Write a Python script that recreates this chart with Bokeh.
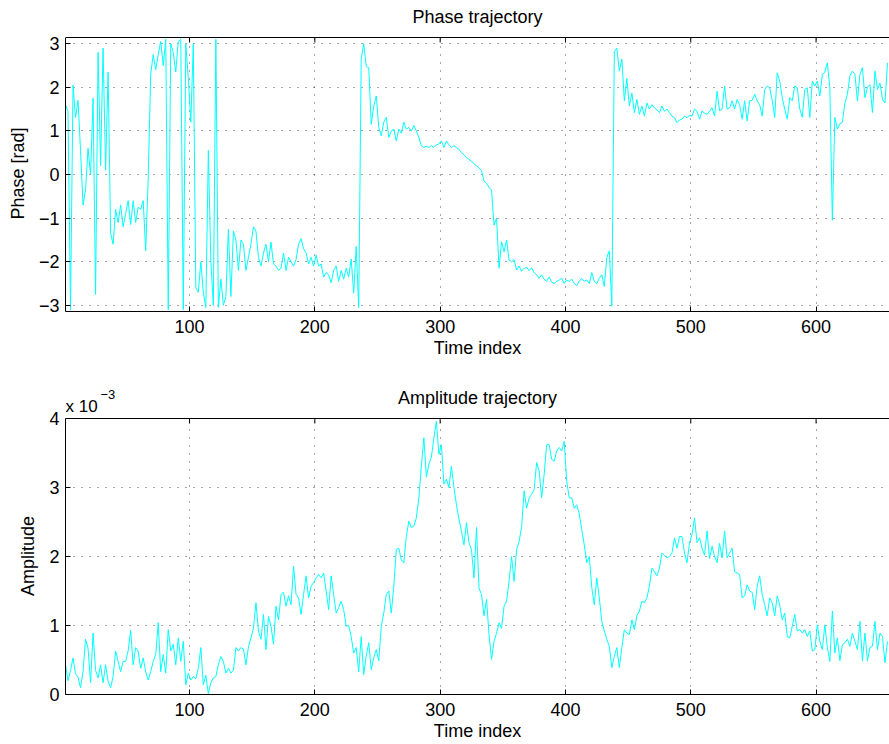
from bokeh.plotting import figure
from bokeh.layouts import column
from bokeh.models import Range1d, FixedTicker, Label, BoxAnnotation, Span
from bokeh.embed import file_html
from bokeh.resources import INLINE

# ---------------- data ----------------
time_index = list(range(1, 659, 2))

phase_rad = [
    1.6, 1.45, -3.1, 2.05, 1.3, 1.7, 0.55, -0.7, -0.35, 0.6,
    0.0, 1.75, -2.75, 2.8, 0.2, 2.9, 0.1, 2.35, -1.35, -1.6,
    -0.8, -1.1, -0.7, -1.2, -0.9, -0.6, -1.15, -0.6, -1.1, -0.75,
    -0.8, -0.6, -1.75, -0.1, 2.3, 2.75, 2.4, 2.75, 3.05, 2.5,
    3.1, -3.1, 3.0, 2.8, 2.35, 3.05, 3.1, -3.1, 3.0, 2.2,
    1.2, 3.0, -2.6, -2.7, -2.0, -2.7, -3.05, 0.55, -2.0, -3.0,
    3.1, -3.05, -2.4, -3.0, -2.8, -1.25, -2.8, -1.3, -1.5, -2.2,
    -1.5, -1.6, -2.2, -1.9, -1.6, -1.2, -1.3, -1.9, -2.1, -1.8,
    -1.6, -2.0, -1.55, -2.05, -2.1, -2.2, -2.15, -1.8, -2.2, -1.9,
    -2.0, -2.1, -1.95, -1.6, -1.47, -1.7, -1.8, -2.05, -1.9, -2.1,
    -1.85, -2.1, -2.05, -2.35, -2.25, -2.3, -2.48, -2.2, -2.1, -2.45,
    -2.2, -2.4, -2.15, -2.35, -1.94, -2.72, -1.65, -3.05, 2.65, 3.0,
    2.48, 2.45, 1.15, 1.57, 1.8, 1.08, 0.89, 1.2, 1.31, 0.85,
    1.0, 1.04, 0.77, 1.04, 0.95, 1.2, 1.04, 1.08, 1.0, 1.12,
    1.0, 0.85, 0.66, 0.62, 0.65, 0.62, 0.66, 0.62, 0.68, 0.70,
    0.77, 0.62, 0.77, 0.68, 0.62, 0.66, 0.62, 0.58, 0.5, 0.45,
    0.39, 0.35, 0.3, 0.25, 0.2, 0.15, 0.09, -0.15, -0.2, -0.3,
    -0.36, -1.16, -1.0, -2.15, -1.54, -1.77, -1.5, -1.96, -2.0, -1.95,
    -2.19, -2.1, -2.22, -2.15, -2.13, -2.2, -2.14, -2.25, -2.3, -2.38,
    -2.3, -2.4, -2.45, -2.35, -2.47, -2.5, -2.45, -2.42, -2.38, -2.5,
    -2.42, -2.45, -2.4, -2.5, -2.55, -2.45, -2.38, -2.45, -2.42, -2.5,
    -2.25, -2.45, -2.5, -2.38, -2.3, -2.57, -1.9, -1.75, -3.02, 2.82,
    2.9, 2.37, 2.65, 1.69, 2.2, 1.57, 1.87, 1.42, 1.72, 1.38,
    1.57, 1.34, 1.64, 1.5, 1.6, 1.53, 1.48, 1.42, 1.57, 1.45,
    1.5, 1.42, 1.34, 1.3, 1.19, 1.25, 1.27, 1.34, 1.3, 1.36,
    1.34, 1.5, 1.45, 1.27, 1.46, 1.4, 1.38, 1.45, 1.53, 1.34,
    1.91, 1.46, 1.5, 2.03, 1.5, 1.53, 1.69, 1.5, 1.72, 1.6,
    1.27, 1.69, 1.23, 1.69, 1.7, 1.84, 1.69, 1.6, 1.34, 1.95,
    2.03, 1.99, 1.7, 1.31, 2.33, 2.14, 1.76, 1.5, 1.27, 1.76,
    1.69, 2.03, 1.99, 1.5, 1.31, 1.95, 1.99, 1.31, 2.14, 2.03,
    2.14, 1.8, 2.29, 2.35, 2.56, 1.99, -1.05, 1.31, 1.04, 1.16,
    1.2, 1.64, 1.84, 2.26, 2.37, 2.3, 1.69, 2.3, 2.45, 1.76,
    2.0, 2.06, 1.42, 2.37, 1.95, 2.1, 1.72, 1.64, 2.56,
]

# amplitude in units of 1e-3 (axis shows "x 10^-3")
amplitude_e3 = [
    0.43, 0.2, 0.35, 0.53, 0.3, 0.25, 0.1, 0.33, 0.8, 0.67,
    0.17, 0.89, 0.35, 0.24, 0.43, 0.17, 0.43, 0.19, 0.1, 0.26,
    0.63, 0.48, 0.33, 0.48, 0.48, 0.63, 0.93, 0.43, 0.68, 0.63,
    0.38, 0.53, 0.33, 0.21, 0.33, 0.48, 0.58, 1.04, 0.33, 0.58,
    0.31, 0.94, 0.63, 0.73, 0.43, 0.82, 0.48, 0.77, 0.14, 0.31,
    0.21, 0.26, 0.23, 0.38, 0.68, 0.14, 0.28, 0.01, 0.17, 0.24,
    0.26, 0.43, 0.55, 0.48, 0.31, 0.38, 0.31, 0.35, 0.68, 0.63,
    0.68, 0.66, 0.43, 0.69, 0.82, 0.96, 1.33, 0.92, 0.8, 1.16,
    0.65, 1.13, 0.99, 0.73, 1.28, 1.08, 1.45, 1.48, 1.28, 1.43,
    1.3, 1.86, 1.45, 1.4, 1.16, 1.45, 1.72, 1.4, 1.57, 1.62,
    1.69, 1.74, 1.69, 1.76, 1.5, 1.23, 1.72, 1.45, 1.18, 1.26,
    1.35, 1.23, 0.99, 1.0, 0.84, 0.6, 0.68, 0.33, 0.84, 0.29,
    0.56, 0.75, 0.36, 0.53, 0.65, 0.49, 0.99, 1.18, 1.45, 1.5,
    1.18, 1.57, 2.1, 2.12, 1.95, 1.91, 2.29, 2.51, 2.42, 2.44,
    2.56, 2.85, 3.31, 3.72, 3.15, 3.34, 3.44, 3.72, 3.96, 3.48,
    3.62, 3.05, 3.12, 3.0, 3.31, 3.0, 2.75, 2.54, 2.37, 2.17,
    2.49, 2.2, 2.1, 1.69, 2.42, 1.54, 1.45, 1.14, 1.38, 0.87,
    0.51, 0.77, 0.89, 1.04, 0.96, 1.28, 1.35, 1.64, 2.0, 1.64,
    2.1, 2.22, 2.42, 2.95, 2.7, 2.85, 2.9, 2.97, 3.36, 3.24,
    2.85, 3.19, 3.62, 3.62, 3.41, 3.38, 3.53, 3.58, 3.53, 3.67,
    3.09, 2.85, 2.85, 2.7, 2.75, 2.62, 2.39, 2.17, 1.91, 2.0,
    1.55, 1.3, 1.69, 1.4, 1.06, 0.92, 0.8, 0.7, 0.39, 0.55,
    0.68, 0.39, 0.68, 0.94, 0.89, 0.87, 1.08, 0.94, 1.14, 1.21,
    1.35, 1.33, 1.4, 1.57, 1.83, 1.78, 1.72, 1.83, 2.05, 2.02,
    1.98, 2.0, 2.05, 2.27, 2.12, 2.29, 2.29, 2.05, 1.91, 2.2,
    2.32, 2.56, 2.2, 2.27, 2.12, 2.02, 2.37, 1.97, 2.15, 2.0,
    1.91, 2.19, 1.98, 2.37, 1.98, 2.05, 2.12, 1.78, 1.76, 1.74,
    1.4, 1.43, 1.59, 1.5, 1.48, 1.23, 1.57, 1.72, 1.45, 1.3,
    1.14, 1.4, 1.33, 1.14, 1.43, 1.3, 1.08, 1.18, 0.84, 0.82,
    0.99, 1.16, 0.92, 0.94, 0.89, 0.94, 0.84, 0.92, 0.63, 0.65,
    1.01, 0.77, 0.65, 1.01, 0.68, 0.48, 1.21, 0.6, 0.82, 0.49,
    0.72, 0.75, 0.8, 0.7, 0.89, 0.77, 0.65, 1.06, 0.49, 0.89,
    0.49, 0.68, 0.7, 1.06, 0.65, 0.89, 0.84, 0.46, 0.77,
]

x_ticks = [100, 200, 300, 400, 500, 600]
phase_ticks = [-3, -2, -1, 0, 1, 2, 3]
phase_tick_labels = {-3: "\u22123", -2: "\u22122", -1: "\u22121", 0: "0", 1: "1", 2: "2", 3: "3"}
amp_ticks = [0, 1, 2, 3, 4]

# ---------------- styling ----------------
FONT = "Liberation Sans"
FS = "18px"
LINE = "#00ffff"
X_START, X_END = 1, 658.6
PI = 3.14159
NBSP = "\u00a0"


def boxed_figure(height, bottom, box_px, y_lo, y_hi, yticks, ylabel, label_pad, title,
                 overrides=None):
    """Frame extended upward; the visible box spans y_lo..y_hi (box_px high)."""
    frame_h = height - bottom
    px_per_unit = box_px / (y_hi - y_lo)
    y_end = y_lo + frame_h / px_per_unit
    p = figure(width=889, height=height, output_backend="svg", toolbar_location=None,
               x_range=Range1d(X_START, X_END), y_range=Range1d(y_lo, y_end),
               min_border_left=65, min_border_right=0, min_border_top=0,
               min_border_bottom=bottom)
    p.outline_line_color = None
    p.background_fill_color = "white"
    p.border_fill_color = "white"

    p.xaxis.ticker = FixedTicker(ticks=x_ticks)
    p.yaxis.ticker = FixedTicker(ticks=yticks)
    p.yaxis.bounds = (y_lo, y_hi)
    if overrides:
        p.yaxis.major_label_overrides = overrides
    p.xaxis.axis_label = "Time index"
    # the axis label is centred on the (extended) frame: pad its end so the
    # visible words sit centred on the box
    p.yaxis.axis_label = ylabel + NBSP * label_pad
    for ax in (p.xaxis[0], p.yaxis[0]):
        ax.axis_line_color = "black"
        ax.major_tick_in = 5
        ax.major_tick_out = 0
        ax.major_tick_line_color = "black"
        ax.minor_tick_line_color = None
        ax.major_label_text_font = FONT
        ax.major_label_text_font_size = FS
        ax.major_label_text_color = "black"
        ax.axis_label_text_font = FONT
        ax.axis_label_text_font_size = FS
        ax.axis_label_text_font_style = "normal"
        ax.axis_label_text_color = "black"
    p.xaxis.major_label_standoff = 8
    p.xaxis.axis_label_standoff = 2
    p.yaxis.major_label_standoff = 6
    p.yaxis.axis_label_standoff = 8

    p.xgrid.ticker = FixedTicker(ticks=x_ticks)
    p.ygrid.ticker = FixedTicker(ticks=yticks)
    p.grid.grid_line_color = "#222222"
    p.grid.grid_line_dash = "1 7"
    p.grid.grid_line_width = 1
    p.grid.grid_line_alpha = 0.8

    # inward tick marks on the top edge of the box
    tick_len = 5 / px_per_unit
    p.segment(x0=x_ticks, y0=[y_hi] * len(x_ticks), x1=x_ticks,
              y1=[y_hi - tick_len] * len(x_ticks), line_color="black", line_width=1)
    # hide the grid above the box, then draw the box top edge
    p.add_layout(BoxAnnotation(bottom=y_hi, fill_color="white", fill_alpha=1.0,
                               line_color=None, line_alpha=0))
    p.add_layout(Span(location=y_hi, dimension="width", line_color="black", line_width=1))
    p.add_layout(Label(x=(X_START + X_END) / 2, y=y_hi, y_offset=21, text=title,
                       text_font=FONT, text_font_size=FS, text_baseline="alphabetic",
                       text_align="center", text_color="black"))
    return p


# ---------- top: phase ----------
p1 = boxed_figure(372, 61, 274, -PI, PI, phase_ticks, "Phase [rad]", 7, "Phase trajectory",
                  phase_tick_labels)
p1.line(time_index, phase_rad, line_color=LINE, line_width=1)

# ---------- bottom: amplitude ----------
AMP_TOP = 4.0
p2 = boxed_figure(372, 50, 276, 0.0, AMP_TOP, amp_ticks, "Amplitude", 9,
                  "Amplitude trajectory")
p2.line(time_index, amplitude_e3, line_color=LINE, line_width=1)
p2.add_layout(Label(x=X_START, y=AMP_TOP, y_offset=12, text="x 10", text_font=FONT,
                    text_font_size="17px", text_baseline="alphabetic", text_align="left",
                    text_color="black"))
p2.add_layout(Label(x=X_START, y=AMP_TOP, x_offset=35, y_offset=24, text="\u22123",
                    text_font=FONT, text_font_size="13px", text_baseline="alphabetic",
                    text_align="left", text_color="black"))

layout = column(p1, p2, spacing=0)
open("out.html", "w").write(file_html(layout, INLINE))
